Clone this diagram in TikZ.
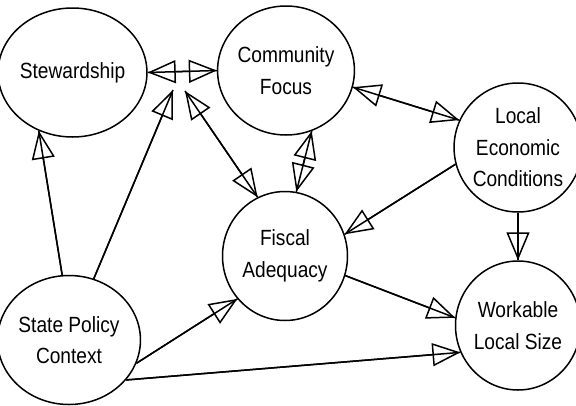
\documentclass[tikz,border=0pt]{standalone}
\usepackage{fontspec}
\setmainfont{Liberation Sans}[FakeStretch=0.87]
\usetikzlibrary{arrows.meta,shapes.geometric}
\begin{document}
\begin{tikzpicture}[x=1pt,y=-1pt,
  concept/.style={draw, line width=1.5pt, ellipse, minimum width=125pt, minimum height=129pt, inner sep=0pt, align=center, font=\fontsize{22}{31.5}\selectfont},
  tipend/.style={-{Triangle[open,length=28pt,width=23pt,line width=1.5pt]}},
  tipboth/.style={{Triangle[open,length=28pt,width=23pt,line width=1.5pt]}-{Triangle[open,length=28pt,width=23pt,line width=1.5pt]}},
  link/.style={line width=1.5pt, draw, postaction={draw, tipend}},
  link2/.style={line width=1.5pt, draw, postaction={draw, tipboth}}
]
\useasboundingbox (0,0) rectangle (576,405);
\node[concept] (st) at (72.5,72.5) {Stewardship};
\node[concept] (cf) at (286,70.5) {Community\\Focus};
\node[concept] (lec) at (518,147.5) {Local\\Economic\\Conditions};
\node[concept] (fa) at (285,256) {Fiscal\\Adequacy};
\node[concept] (sp) at (69,340) {State Policy\\Context};
\node[concept] (wls) at (518,325.5) {Workable\\Local Size};
\coordinate (a1) at (173,90);
\coordinate (a2) at (185,91);

\path[link2] (st.east) -- (cf.west);
\path[link] (sp.96) -- (st.240);
\path[link] (sp.68) -- (a1);
\path[link2] (a2) -- (fa.115);
\path[link2] (cf.-67) -- (fa.80);
\path[link2] (cf.-14) -- (lec.155);
\path[link] (lec.195) -- (fa.20);
\path[link] (lec.south) -- (wls.north);
\path[link] (fa.-18) -- (wls.173);
\path[link] (sp.-19) -- (fa.222);
\path[link] (sp.-35) -- (wls.205);
\end{tikzpicture}
\end{document}
